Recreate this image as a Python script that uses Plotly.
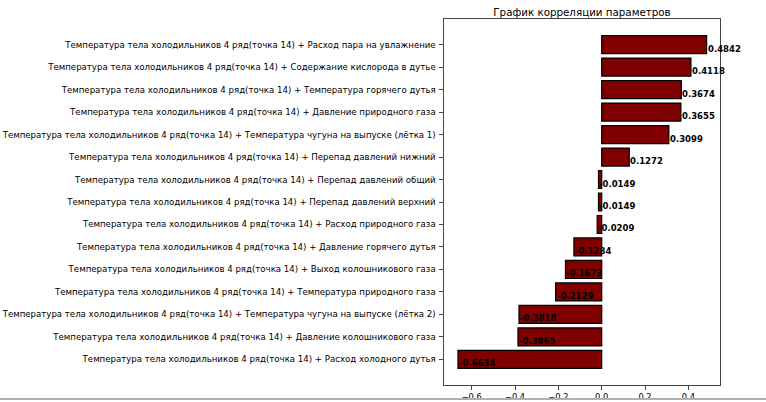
import plotly.graph_objects as go

prefix = "Температура тела холодильников 4 ряд(точка 14) + "
params = [
    "Расход пара на увлажнение",
    "Содержание кислорода в дутье",
    "Температура горячего дутья",
    "Давление природного газа",
    "Температура чугуна на выпуске (лётка 1)",
    "Перепад давлений нижний",
    "Перепад давлений общий",
    "Перепад давлений верхний",
    "Расход природного газа",
    "Давление горячего дутья",
    "Выход колошникового газа",
    "Температура природного газа",
    "Температура чугуна на выпуске (лётка 2)",
    "Давление колошникового газа",
    "Расход холодного дутья",
]
corr = [0.4842, 0.4118, 0.3674, 0.3655, 0.3099, 0.1272, -0.0149, -0.0149,
        -0.0209, -0.1284, -0.1673, -0.2129, -0.3818, -0.3865, -0.6634]
labels = [prefix + p for p in params]

fig = go.Figure()
fig.add_trace(go.Bar(
    x=corr, y=labels, orientation="h", width=0.8,
    marker=dict(color="#800000", line=dict(color="black", width=1.2)),
))

# value labels at bar ends, like ax.text(x, y, ...)
annotations = [
    dict(x=v, y=lab, text=f"{v:.4f}", showarrow=False, xanchor="left",
         yanchor="middle", yshift=-4, xshift=-1,
         font=dict(family="DejaVu Sans", size=8.5, color="black", weight="bold"))
    for v, lab in zip(corr, labels)
]

axis_style = dict(showline=True, linecolor="#444", linewidth=1.2, mirror=True,
                  ticks="outside", ticklen=3.5, tickcolor="#444",
                  showgrid=False, zeroline=False, automargin=False)

fig.update_layout(
    width=766, height=402,
    paper_bgcolor="white", plot_bgcolor="white",
    margin=dict(l=444, r=46, t=19, b=17),
    title=dict(text="График корреляции параметров", xref="paper", x=0.5,
               xanchor="center", y=1 - 12.5 / 402, yanchor="middle",
               font=dict(family="DejaVu Sans", size=10.3, color="black")),
    font=dict(family="DejaVu Sans", size=8.6, color="black"),
    xaxis=dict(range=[-0.728, 0.546], tickvals=[-0.6, -0.4, -0.2, 0.0, 0.2, 0.4],
               ticktext=["−0.6", "−0.4", "−0.2", "0.0", "0.2", "0.4"],
               tickfont=dict(size=8.3), **axis_style),
    yaxis=dict(range=[len(labels) - 1 + 1.14, -1.14], ticklabelstandoff=2, **axis_style),
    annotations=annotations,
    shapes=[dict(type="line", xref="paper", yref="paper",
                 x0=-444 / 276, x1=322 / 276, y0=-14 / 366, y1=-14 / 366,
                 line=dict(color="#b0b0b0", width=2))],
    showlegend=False,
)

# drop the browser's default 8px body margin so the figure sits at 0,0
fig.write_html("out.html", config={"displayModeBar": False},
               post_script="document.body.style.margin='0';")
